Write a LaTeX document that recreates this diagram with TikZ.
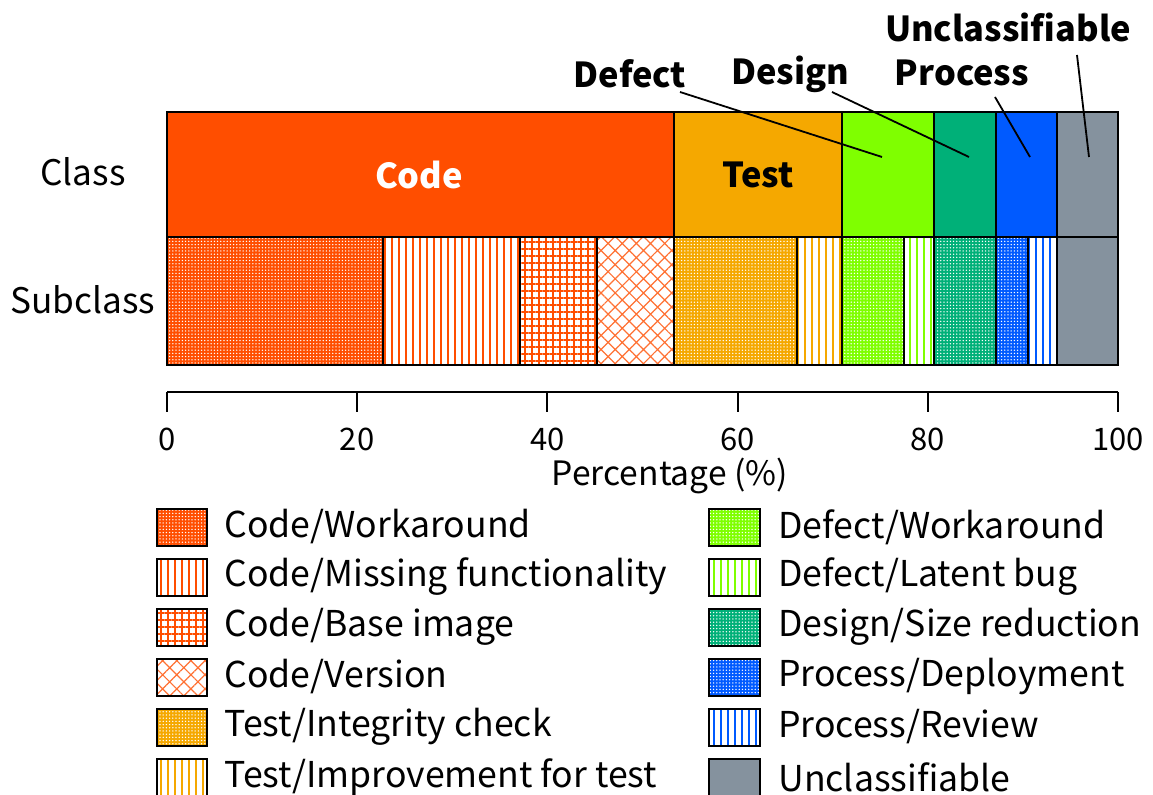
\documentclass[tikz,border=0pt]{standalone}
\usepackage{fontspec}
\setmainfont{Noto Sans CJK JP}
\usetikzlibrary{patterns.meta}
\definecolor{codeC}{RGB}{255,78,0}
\definecolor{testC}{RGB}{245,168,0}
\definecolor{defectC}{RGB}{127,255,0}
\definecolor{designC}{RGB}{0,176,120}
\definecolor{processC}{RGB}{0,90,255}
\definecolor{unclC}{RGB}{133,146,158}
\tikzstyle{seg} = [draw, line width=0.75pt]
\tikzstyle{legbox} = [draw, line width=1.1pt]
\tikzstyle{lead} = [draw, line width=0.9pt]
\tikzstyle{legtext} = [anchor=west, inner sep=0pt, font=\fontsize{17.8}{20}\selectfont]
\tikzstyle{classlabel} = [inner sep=0pt, font=\fontsize{17.2}{19}\selectfont\bfseries]
\tikzstyle{rowlabel} = [inner sep=0pt, font=\fontsize{17.6}{19}\selectfont]
\tikzstyle{ticklabel} = [inner sep=0pt, font=\fontsize{15.5}{17}\selectfont]
\tikzset{
  dotsof/.style={preaction={fill=#1}, pattern={Dots[distance=1.6pt,radius=0.38pt]}, pattern color=white},
  linesof/.style={pattern={Lines[angle=90,distance=3.5pt,line width=0.7pt]}, pattern color=#1},
  gridof/.style={pattern={Hatch[angle=0,distance=3.5pt,line width=0.8pt]}, pattern color=#1},
  hatchof/.style={pattern={Hatch[angle=45,distance=5pt,line width=0.6pt]}, pattern color=#1!80}
}

\begin{document}
\begin{tikzpicture}[x=0.5pt, y=-0.5pt]
\useasboundingbox (0,0) rectangle (1153,795);
% Class bar
\path [seg, fill=codeC] (167,112) rectangle (674,237);
\path [seg, fill=testC] (674,112) rectangle (842,237);
\path [seg, fill=defectC] (842,112) rectangle (934,237);
\path [seg, fill=designC] (934,112) rectangle (996,237);
\path [seg, fill=processC] (996,112) rectangle (1057,237);
\path [seg, fill=unclC] (1057,112) rectangle (1118,237);
% Subclass bar
\path [seg, dotsof=codeC] (167,237) rectangle (383,365);
\path [seg, linesof=codeC] (383,237) rectangle (520,365);
\path [seg, gridof=codeC] (520,237) rectangle (597,365);
\path [seg, hatchof=codeC] (597,237) rectangle (674,365);
\path [seg, dotsof=testC] (674,237) rectangle (797,365);
\path [seg, linesof=testC] (797,237) rectangle (842,365);
\path [seg, dotsof=defectC] (842,237) rectangle (904,365);
\path [seg, linesof=defectC] (904,237) rectangle (934,365);
\path [seg, dotsof=designC] (934,237) rectangle (996,365);
\path [seg, dotsof=processC] (996,237) rectangle (1028,365);
\path [seg, linesof=processC] (1028,237) rectangle (1057,365);
\path [seg, fill=unclC] (1057,237) rectangle (1118,365);
% Labels
\node [rowlabel] (classrow) at (83,172) {Class};
\node [rowlabel] (subrow) at (83,300) {Subclass};
\node [classlabel, text=white] (code) at (419,175) {Code};
\node [classlabel] (test) at (758,175) {Test};
\node [classlabel] (defect) at (630,74) {Defect};
\node [classlabel] (design) at (790,74) {Design};
\node [classlabel] (process) at (962,73) {Process};
\node [classlabel] (uncl) at (1008,27) {Unclassifiable};
% Leader lines
\coordinate (defectS) at (680,92);  \coordinate (defectE) at (882,157);
\coordinate (designS) at (832,92);  \coordinate (designE) at (969,157);
\coordinate (processS) at (995,97); \coordinate (processE) at (1030,157);
\coordinate (unclS) at (1077,55);   \coordinate (unclE) at (1089,157);
\path [lead] (defectS) -- (defectE);
\path [lead] (designS) -- (designE);
\path [lead] (processS) -- (processE);
\path [lead] (unclS) -- (unclE);
% Axis
\draw [line width=1pt] (167,392) -- (1118,392);
\foreach \v in {0,20,...,100} {
  \draw [line width=1pt] (167+9.51*\v,392) -- ++(0,20);
  \node [ticklabel] (tick\v) at (167+9.51*\v,439) {\v};
}
\node [ticklabel, font=\fontsize{16.8}{18}\selectfont] (xlabel) at (670,476) {Percentage (\%)};
% Legend
\path [legbox, dotsof=codeC] (157,509) rectangle (207,546);
\node [legtext] (l1) at (224,527) {Code/Workaround};
\path [legbox, linesof=codeC] (157,559) rectangle (207,596);
\node [legtext] (l2) at (224,577) {Code/Missing functionality};
\path [legbox, gridof=codeC] (157,609) rectangle (207,646);
\node [legtext] (l3) at (224,627) {Code/Base image};
\path [legbox, hatchof=codeC] (157,659) rectangle (207,696);
\node [legtext] (l4) at (224,677) {Code/Version};
\path [legbox, dotsof=testC] (157,709) rectangle (207,746);
\node [legtext] (l5) at (224,727) {Test/Integrity check};
\path [legbox, linesof=testC] (157,759) rectangle (207,796);
\node [legtext] (l6) at (224,777) {Test/Improvement for test};
\path [legbox, dotsof=defectC] (709,509) rectangle (760,546);
\node [legtext] (r1) at (778,527) {Defect/Workaround};
\path [legbox, linesof=defectC] (709,559) rectangle (760,596);
\node [legtext] (r2) at (778,577) {Defect/Latent bug};
\path [legbox, dotsof=designC] (709,609) rectangle (760,646);
\node [legtext] (r3) at (778,627) {Design/Size reduction};
\path [legbox, dotsof=processC] (709,659) rectangle (760,696);
\node [legtext] (r4) at (778,677) {Process/Deployment};
\path [legbox, linesof=processC] (709,709) rectangle (760,746);
\node [legtext] (r5) at (778,727) {Process/Review};
\path [legbox, fill=unclC] (709,759) rectangle (760,796);
\node [legtext] (r6) at (778,777) {Unclassifiable};
\end{tikzpicture}
\end{document}
